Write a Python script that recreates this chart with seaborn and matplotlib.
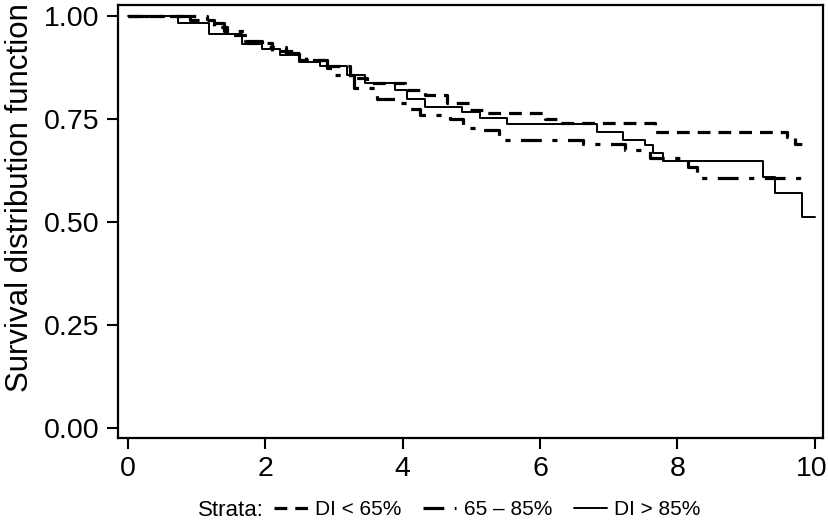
import pandas as pd
import seaborn as sns
import matplotlib.pyplot as plt
from matplotlib.transforms import ScaledTranslation

# Kaplan-Meier step curves (time in years, survival)
t_low = [0, 0.9, 1.25, 1.45, 1.75, 2.1, 2.5, 2.85, 3.23, 3.48, 4.03, 4.32, 4.64, 4.98, 5.17, 6.07, 6.29, 7.67, 9.59, 9.71, 9.9]
s_low = [1.0, 0.99, 0.975, 0.955, 0.935, 0.915, 0.895, 0.88, 0.85, 0.837, 0.82, 0.81, 0.79, 0.772, 0.765, 0.75, 0.74, 0.72, 0.707, 0.69, 0.69]

t_mid = [0, 1.15, 1.4, 1.7, 1.95, 2.3, 2.6, 2.9, 3.0, 3.3, 3.63, 3.95, 4.08, 4.25, 4.69, 4.88, 5.09, 5.41, 6.62, 7.23, 7.6, 8.15, 8.28, 9.93]
s_mid = [1.0, 0.985, 0.965, 0.94, 0.925, 0.91, 0.895, 0.875, 0.857, 0.825, 0.80, 0.79, 0.775, 0.76, 0.75, 0.73, 0.723, 0.70, 0.69, 0.675, 0.655, 0.634, 0.607, 0.607]

t_high = [0, 0.73, 1.18, 1.67, 1.95, 2.21, 2.5, 2.8, 3.19, 3.45, 3.89, 4.06, 4.32, 4.86, 5.12, 5.52, 6.83, 7.2, 7.53, 7.64, 7.79, 9.24, 9.42, 9.81, 10.0]
s_high = [1.0, 0.985, 0.957, 0.934, 0.92, 0.905, 0.89, 0.88, 0.857, 0.837, 0.82, 0.80, 0.78, 0.767, 0.752, 0.738, 0.718, 0.70, 0.687, 0.667, 0.648, 0.609, 0.57, 0.512, 0.512]

labels = ['DI < 65%', '65 \u2013 85%', 'DI > 85%']

sns.set_style('ticks')
plt.rcParams['font.family'] = ['Liberation Sans', 'DejaVu Sans']
plt.rcParams['text.color'] = 'black'
plt.rcParams['axes.labelcolor'] = 'black'
plt.rcParams['xtick.color'] = 'black'
plt.rcParams['ytick.color'] = 'black'

fig = plt.figure(figsize=(8.29, 5.22), dpi=100)
ax = fig.add_axes([0.142, 0.161, 0.851, 0.829])

styles = [(0, (4, 2.5)), (0, (6.5, 3.3, 1.6, 3.3)), '-']
widths = [2.3, 2.3, 1.4]
for t, s, lab, ls, lw in zip([t_low, t_mid, t_high], [s_low, s_mid, s_high], labels, styles, widths):
    df = pd.DataFrame({'time': t, 'surv': s})
    sns.lineplot(data=df, x='time', y='surv', ax=ax, color='black', drawstyle='steps-post',
                 linestyle=ls, lw=lw, label=lab, legend=False)

ax.set_xlim(-0.145, 10.12)
ax.set_ylim(-0.024, 1.027)
ax.set_xticks([0, 2, 4, 6, 8, 10])
ax.set_yticks([0, 0.25, 0.5, 0.75, 1.0])
ax.set_yticklabels(['0.00', '0.25', '0.50', '0.75', '1.00'])
ax.set_xlabel('')
ax.set_ylabel('Survival distribution function', fontsize=22.5)
ax.yaxis.set_label_coords(-0.117, 0.556)
ax.tick_params(labelsize=20.5, length=8, width=1.5, direction='out', pad=5)
for sp in ax.spines.values():
    sp.set_linewidth(1.6)
    sp.set_color('black')

# keep the last x tick label inside the figure edge
last = ax.get_xticklabels()[-1]
last.set_transform(last.get_transform() + ScaledTranslation(-3 / 100, 0, fig.dpi_scale_trans))

fig.text(0.318, 0.011, 'Strata:', fontsize=16, ha='right', va='baseline')
handles = ax.get_lines()
fig.legend(handles, labels, loc='center left', bbox_to_anchor=(0.3184, 0.023), ncol=3,
           frameon=False, fontsize=15, borderpad=0, handlelength=1.6, handletextpad=0.35,
           columnspacing=1.04)

fig.savefig('out.png', dpi=100)
